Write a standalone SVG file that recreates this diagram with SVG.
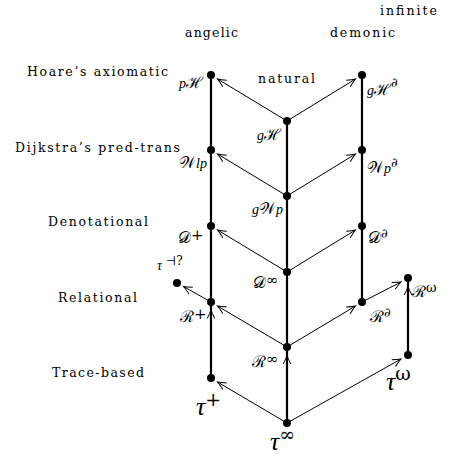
<svg xmlns="http://www.w3.org/2000/svg" width="449" height="463" viewBox="0 0 449 463">
<defs>
<marker id="ah" viewBox="-10 -5 12 10" refX="0" refY="0" markerWidth="12" markerHeight="10" markerUnits="userSpaceOnUse" orient="auto">
<path d="M -8.5,-3.8 Q -3,-1 0,0 Q -3,1 -8.5,3.8" fill="none" stroke="#000" stroke-width="1"/>
</marker>
<style>
.row{font-family:"DejaVu Serif","Liberation Serif",serif;font-size:12.5px;fill:#000}
.m{font-family:"Liberation Serif","DejaVu Serif",serif;font-style:italic;font-size:14px;fill:#000}
.c{font-style:normal;font-size:16px}
.s{font-family:"DejaVu Serif","Liberation Serif",serif;font-style:normal;font-size:13px}
.sl{font-family:"DejaVu Serif","Liberation Serif",serif;font-style:normal;font-size:15px}
.big{font-family:"Liberation Serif","DejaVu Serif",serif;font-style:italic;font-size:26px;fill:#000}
.bs{font-family:"DejaVu Serif","Liberation Serif",serif;font-style:normal;font-size:19px}
.small{font-family:"Liberation Serif","DejaVu Serif",serif;font-style:italic;font-size:14px;fill:#000}
.ss{font-family:"DejaVu Serif","Liberation Serif",serif;font-style:normal;font-size:12px}
.thick{stroke:#000;stroke-width:2.2;fill:none}
.thin{stroke:#000;stroke-width:1;fill:none;marker-end:url(#ah)}
.dot{fill:#000}
</style>
</defs>
<rect width="449" height="463" fill="#fff"/>
<g id="headers">
<text class="row" x="380" y="15" textLength="57" lengthAdjust="spacing">infinite</text>
<text class="row" x="185" y="37" textLength="53" lengthAdjust="spacing">angelic</text>
<text class="row" x="330" y="37" textLength="65" lengthAdjust="spacing">demonic</text>
<text class="row" x="258" y="83" textLength="57" lengthAdjust="spacing">natural</text>
<text class="row" x="27" y="76" textLength="141" lengthAdjust="spacing">Hoare’s axiomatic</text>
<text class="row" x="15" y="152" textLength="165" lengthAdjust="spacing">Dijkstra’s pred-trans</text>
<text class="row" x="48" y="226" textLength="100" lengthAdjust="spacing">Denotational</text>
<text class="row" x="58" y="302" textLength="79" lengthAdjust="spacing">Relational</text>
<text class="row" x="52" y="377" textLength="92" lengthAdjust="spacing">Trace-based</text>
</g>
<g id="connectors">
<path class="thick" d="M211,75 V378 M287,121 V423 M362,75 V302 M408,278 V355"/>
<path class="thin" d="M211,378 L211,310"/>
<path class="thin" d="M287,423 L287,355.5"/>
<path class="thin" d="M408,355 L408,286.5"/>
<path class="thin" d="M287,121 L217.5,79"/>
<path class="thin" d="M287,121 L355.5,79"/>
<path class="thin" d="M287,196 L217.5,154"/>
<path class="thin" d="M287,196 L355.5,154"/>
<path class="thin" d="M287,272 L217.5,230"/>
<path class="thin" d="M287,272 L355.5,230"/>
<path class="thin" d="M287,347 L217.5,306"/>
<path class="thin" d="M287,347 L355.5,306"/>
<path class="thin" d="M211,302 L183.5,286.5"/>
<path class="thin" d="M362,302 L401,282"/>
<path class="thin" d="M287,423 L217.5,382"/>
<path class="thin" d="M287,423 L401,359"/>
</g>
<g id="pH"><circle class="dot" cx="211" cy="75" r="4"/><text class="m" x="179" y="88">p<tspan class="c">ℋ</tspan></text></g>
<g id="gHd"><circle class="dot" cx="362" cy="75" r="4"/><text class="m" x="367" y="95">g<tspan class="c">ℋ</tspan><tspan class="s" dy="-8">∂</tspan></text></g>
<g id="gH"><circle class="dot" cx="287" cy="121" r="4"/><text class="m" x="257" y="140">g<tspan class="c">ℋ</tspan></text></g>
<g id="Wlp"><circle class="dot" cx="211" cy="150" r="4"/><text class="m" x="179" y="168"><tspan class="c">𝒲</tspan>lp</text></g>
<g id="Wpd"><circle class="dot" cx="362" cy="150" r="4"/><text class="m" x="367" y="173"><tspan class="c">𝒲</tspan>p<tspan class="s" dy="-6">∂</tspan></text></g>
<g id="gWp"><circle class="dot" cx="287" cy="196" r="4"/><text class="m" x="252" y="214">g<tspan class="c">𝒲</tspan>p</text></g>
<g id="Dplus"><circle class="dot" cx="211" cy="226" r="4"/><text class="m" x="178" y="243"><tspan class="c">𝒟</tspan><tspan class="sl" dy="-3">+</tspan></text></g>
<g id="Dd"><circle class="dot" cx="362" cy="226" r="4"/><text class="m" x="368" y="243"><tspan class="c">𝒟</tspan><tspan class="s" dy="-5">∂</tspan></text></g>
<g id="Dinf"><circle class="dot" cx="287" cy="272" r="4"/><text class="m" x="253" y="288"><tspan class="c">𝒟</tspan><tspan class="sl" dy="-3">∞</tspan></text></g>
<g id="tauq"><circle class="dot" cx="177" cy="283" r="4"/><text class="small" x="157" y="270">τ<tspan class="ss" dy="-5"> ⊣?</tspan></text></g>
<g id="Rplus"><circle class="dot" cx="211" cy="302" r="4"/><text class="m" x="180" y="322"><tspan class="c">ℛ</tspan><tspan class="sl" dy="-3">+</tspan></text></g>
<g id="Rd"><circle class="dot" cx="362" cy="302" r="4"/><text class="m" x="370" y="322"><tspan class="c">ℛ</tspan><tspan class="s" dy="-5">∂</tspan></text></g>
<g id="Romega"><circle class="dot" cx="408" cy="278" r="4"/><text class="m" x="412" y="297"><tspan class="c">ℛ</tspan><tspan class="s" dy="-5">ω</tspan></text></g>
<g id="Rinf"><circle class="dot" cx="287" cy="347" r="4"/><text class="m" x="252" y="367"><tspan class="c">ℛ</tspan><tspan class="sl" dy="-3">∞</tspan></text></g>
<g id="tauplus"><circle class="dot" cx="211" cy="378" r="4"/><text class="big" x="196" y="415">τ<tspan class="bs" dy="-9">+</tspan></text></g>
<g id="tauomega"><circle class="dot" cx="408" cy="355" r="4"/><text class="big" x="386" y="390">τ<tspan class="bs" dy="-10">ω</tspan></text></g>
<g id="tauinf"><circle class="dot" cx="287" cy="423" r="4"/><text class="big" x="270" y="450">τ<tspan class="bs" dy="-9">∞</tspan></text></g>
</svg>
